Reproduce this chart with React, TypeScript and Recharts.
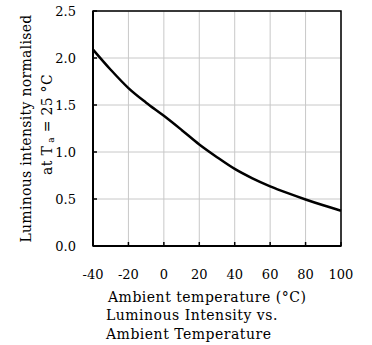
import { LineChart, Line, XAxis, YAxis, CartesianGrid, ReferenceArea } from 'recharts';

const temps = [-40, -30, -20, -10, 0, 10, 20, 30, 40, 50, 60, 70, 80, 90, 100];
const intensity = [2.09, 1.875, 1.68, 1.525, 1.385, 1.235, 1.08, 0.945, 0.82, 0.72, 0.635, 0.562, 0.495, 0.433, 0.375];
const xTicks = [-40, -20, 0, 20, 40, 60, 80, 100];
const yTicks = [0, 0.5, 1, 1.5, 2, 2.5];

const datos = temps.map((t, i) => ({ t, v: intensity[i] }));

const FONT = '"DejaVu Serif", serif';
const X_MARGIN = 24;
const Y_MARGIN = 17;
const TICK = 4;

// ticks point inward, so draw the little mark together with the label
const XTick = (props: any) => {
  const { x, y, payload } = props;
  const axisY = y - X_MARGIN;
  return (
    <g>
      <line x1={x} x2={x} y1={axisY} y2={axisY - TICK} stroke="#000" strokeWidth={1.5} />
      <text x={x} y={y} dy="0.71em" textAnchor="middle" fill="#000" fontSize={13} fontFamily={FONT}>
        {payload.value}
      </text>
    </g>
  );
};

const YTick = (props: any) => {
  const { x, y, payload } = props;
  const axisX = x + Y_MARGIN;
  return (
    <g>
      <line x1={axisX} x2={axisX + TICK} y1={y} y2={y} stroke="#000" strokeWidth={1.5} />
      <text x={x} y={y} dy="0.355em" textAnchor="end" fill="#000" fontSize={13} fontFamily={FONT}>
        {Number(payload.value).toFixed(1)}
      </text>
    </g>
  );
};

const YLabel = (props: any) => {
  const vb = props.viewBox || { x: 0, y: 0, width: 0, height: 0 };
  const cy = vb.y + vb.height / 2;
  return (
    <g fontFamily={FONT} fontSize={14} fill="#000" letterSpacing={0.3}>
      <text x={26} y={cy} textAnchor="middle" dominantBaseline="central" transform={`rotate(-90 26 ${cy})`}>
        Luminous intensity normalised
      </text>
      <text x={47} y={cy - 4} textAnchor="middle" dominantBaseline="central" transform={`rotate(-90 47 ${cy - 4})`}>
        at T<tspan fontSize={9} dy={4}> a</tspan>
        <tspan dy={-4}> = 25 °C</tspan>
      </text>
    </g>
  );
};

export default function App() {
  return (
    <div style={{ position: 'absolute', left: 0, top: 0, width: 372, height: 345, background: '#fff', fontFamily: FONT }}>
      <LineChart width={372} height={345} data={datos} margin={{ top: 11, right: 31, bottom: 69, left: 0 }}>
        <CartesianGrid stroke="#c8c8c8" strokeWidth={1} />
        <XAxis
          dataKey="t"
          type="number"
          domain={[-40, 100]}
          ticks={xTicks}
          height={30}
          tickSize={0}
          tickMargin={X_MARGIN}
          axisLine={{ stroke: '#000', strokeWidth: 2 }}
          tickLine={false}
          tick={<XTick />}
        />
        <YAxis
          domain={[0, 2.5]}
          ticks={yTicks}
          width={93}
          tickSize={0}
          tickMargin={Y_MARGIN}
          axisLine={{ stroke: '#000', strokeWidth: 2 }}
          tickLine={false}
          tick={<YTick />}
          label={<YLabel />}
        />
        <ReferenceArea x1={-40} x2={100} y1={0} y2={2.5} fill="none" stroke="#000" strokeWidth={1.5} ifOverflow="visible" />
        <Line type="monotone" dataKey="v" stroke="#000" strokeWidth={2.5} dot={false} isAnimationActive={false} />
      </LineChart>
      <div style={{ position: 'absolute', left: 108, top: 288, fontSize: 14, lineHeight: '19px', color: '#000', letterSpacing: 0.5 }}>
        Ambient temperature (°C)
      </div>
      <div style={{ position: 'absolute', left: 106, top: 306, fontSize: 14, lineHeight: '19px', color: '#000', letterSpacing: 0.5 }}>
        Luminous Intensity vs.
        <br />
        Ambient Temperature
      </div>
    </div>
  );
}
